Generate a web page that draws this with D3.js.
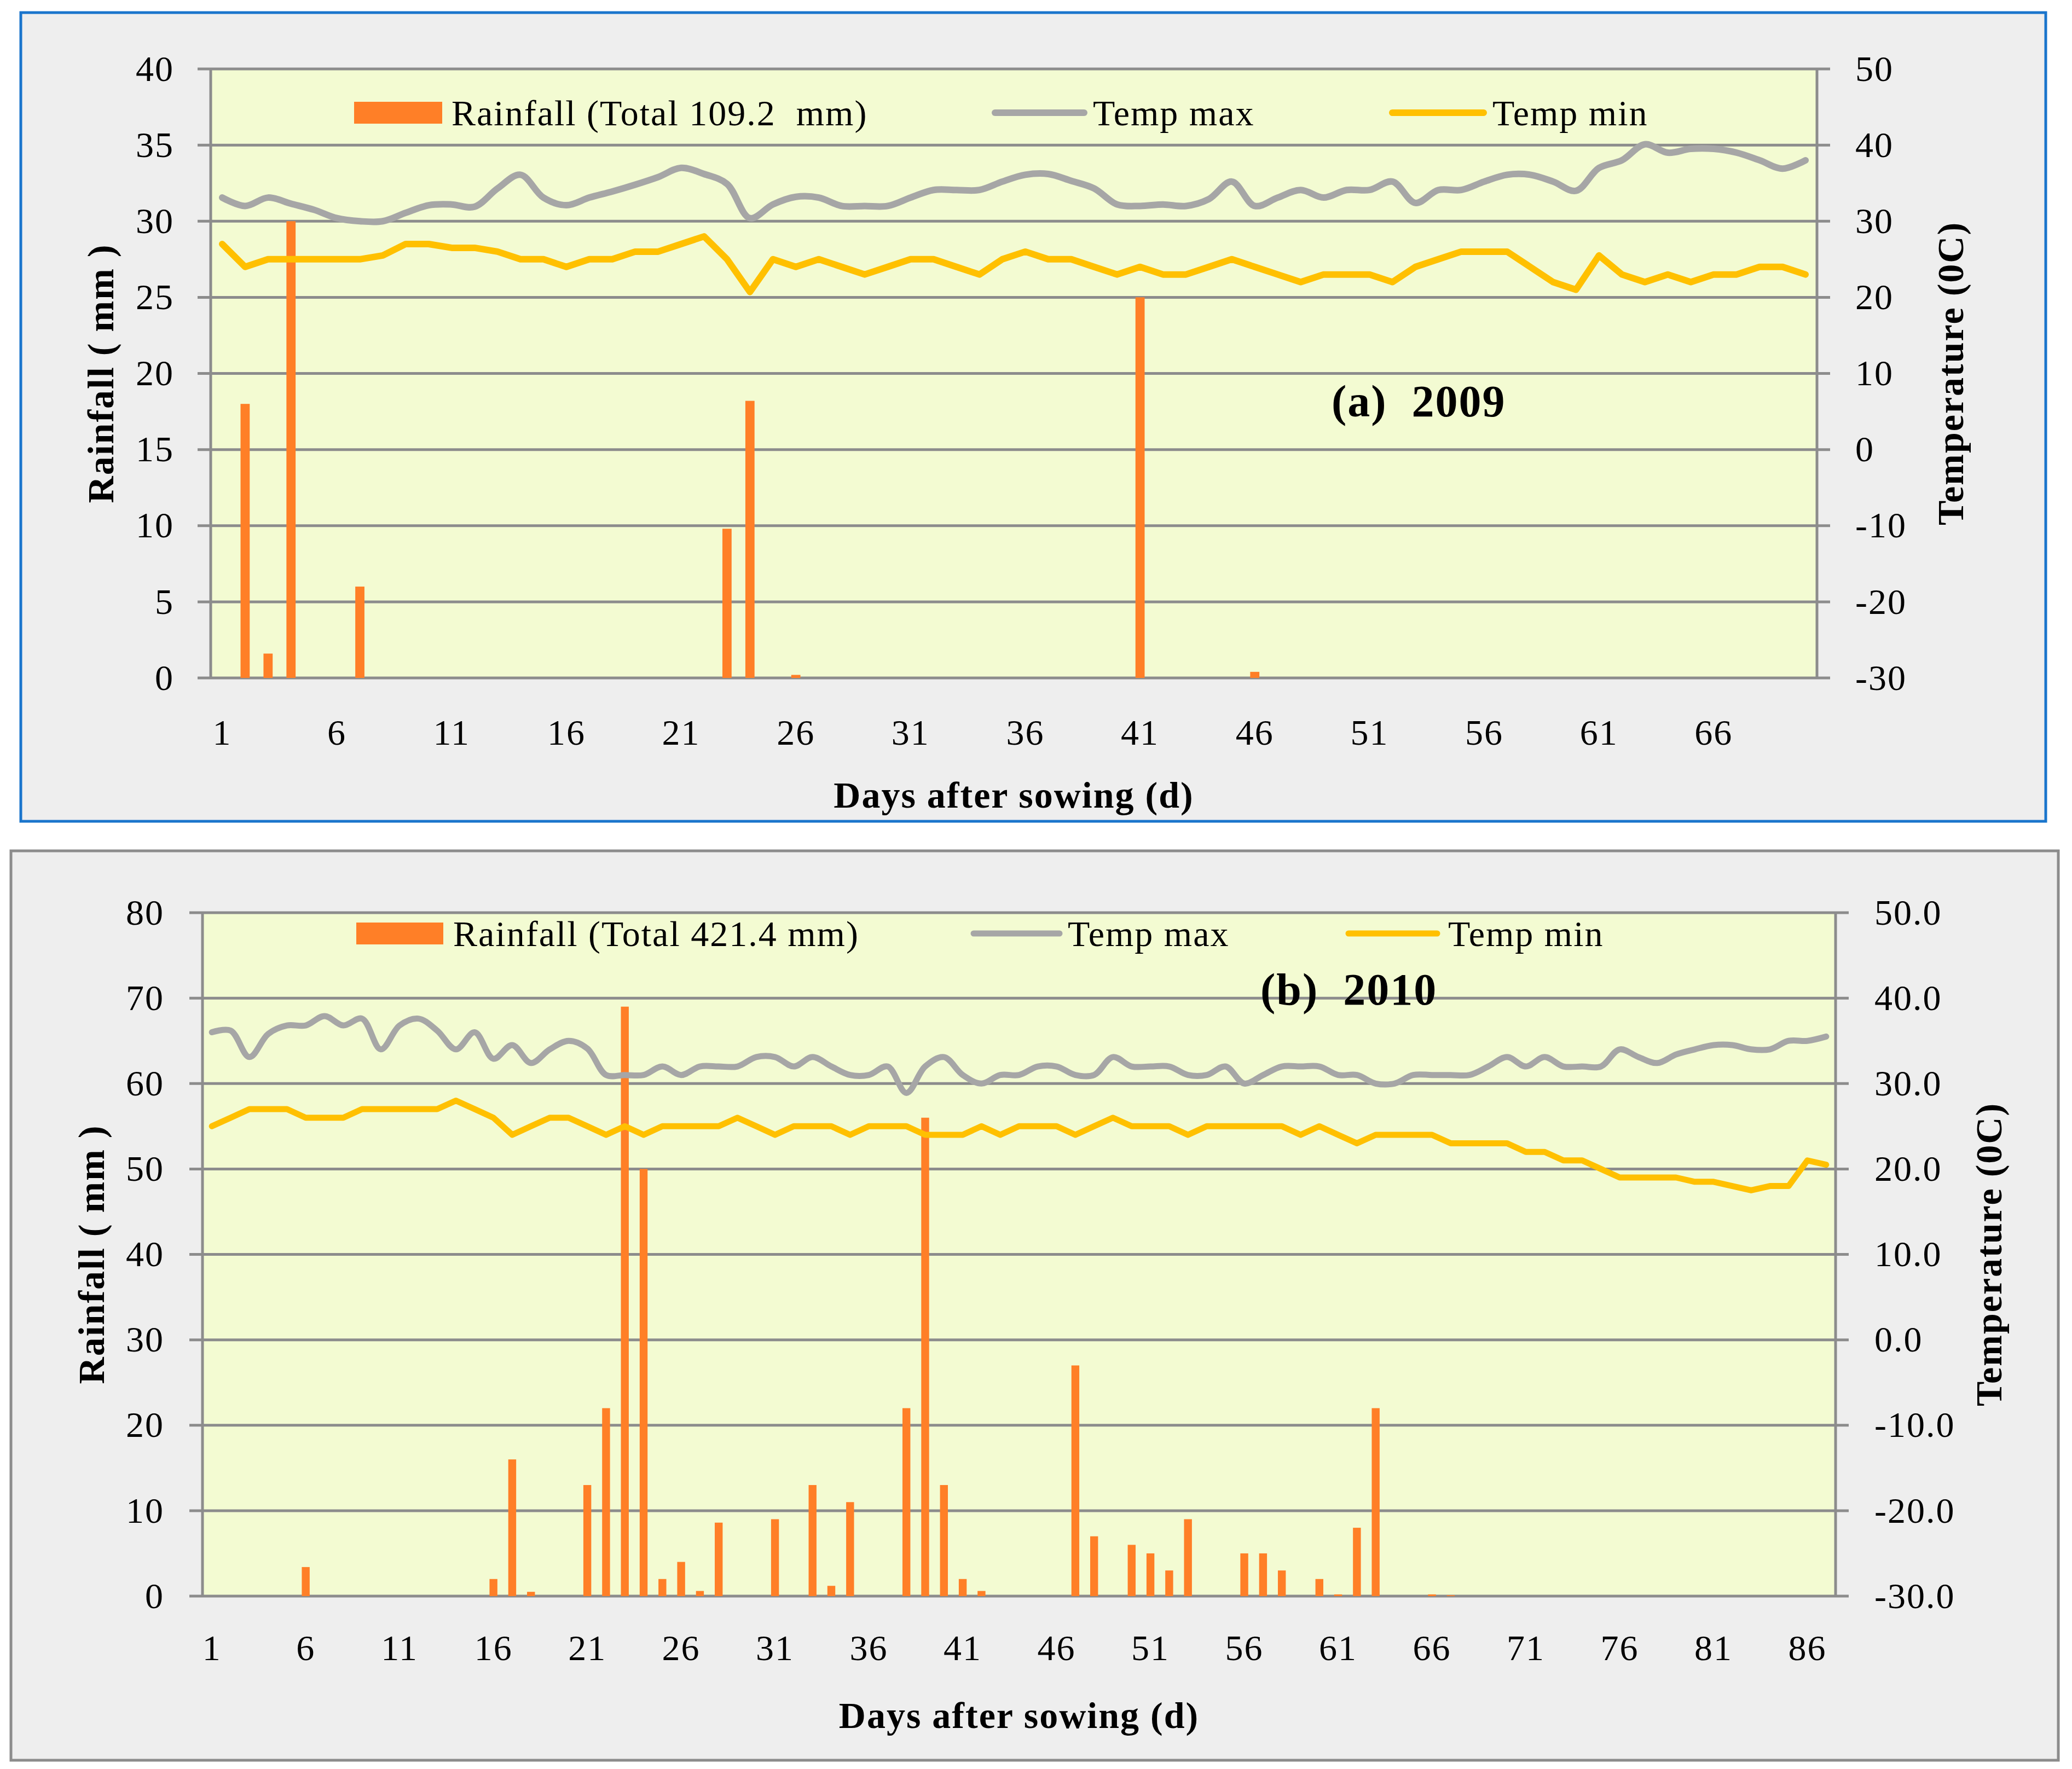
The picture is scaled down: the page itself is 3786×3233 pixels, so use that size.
<!DOCTYPE html>
<html>
<head>
<meta charset="utf-8" />
<title>Rainfall and temperature after sowing</title>
<style>
html, body {
    margin: 0;
    padding: 0;
    background: #fff;
}
svg text {
    font-family: "Liberation Serif", "Times New Roman", serif;
    fill: #000;
    white-space: pre;
    letter-spacing: 2px;
}
</style>
</head>
<body>
<svg id="chart" width="3786" height="3233"></svg>
<script src="https://cdnjs.cloudflare.com/ajax/libs/d3/7.8.5/d3.min.js"></script>
<script>
// ---- 2009 (70 days) ----
var days2009 = d3.range(1, 71)
var rain2009 = [
    0, 18, 1.6, 30, 0, 0, 6, 0, 0, 0,
    0, 0, 0, 0, 0, 0, 0, 0, 0, 0,
    0, 0, 9.8, 18.2, 0, 0.2, 0, 0, 0, 0,
    0, 0, 0, 0, 0, 0, 0, 0, 0, 0,
    25, 0, 0, 0, 0, 0.4, 0, 0, 0, 0,
    0, 0, 0, 0, 0, 0, 0, 0, 0, 0,
    0, 0, 0, 0, 0, 0, 0, 0, 0, 0
]
var tmax2009 = [
    33.1, 32.0, 33.1, 32.3, 31.5, 30.4, 30.0, 30.0, 31.1, 32.1,
    32.2, 31.9, 34.3, 36.1, 33.1, 32.1, 33.1, 33.9, 34.8, 35.8,
    37.0, 36.2, 34.9, 30.4, 32.2, 33.2, 33.1, 32.0, 32.0, 32.0,
    33.1, 34.1, 34.1, 34.1, 35.2, 36.1, 36.2, 35.3, 34.3, 32.2,
    32.0, 32.2, 32.0, 32.9, 35.2, 32.0, 33.1, 34.1, 33.1, 34.1,
    34.1, 35.2, 32.4, 34.1, 34.1, 35.2, 36.1, 36.1, 35.2, 34.0,
    37.0, 38.0, 40.1, 39.0, 39.5, 39.5, 39.0, 38.0, 36.9, 38.0
]
var tmin2009 = [
    27, 24, 25, 25, 25, 25, 25, 25.5, 27, 27,
    26.5, 26.5, 26, 25, 25, 24, 25, 25, 26, 26,
    27, 28, 25, 20.7, 25, 24, 25, 24, 23, 24,
    25, 25, 24, 23, 25, 26, 25, 25, 24, 23,
    24, 23, 23, 24, 25, 24, 23, 22, 23, 23,
    23, 22, 24, 25, 26, 26, 26, 24, 22, 21,
    25.5, 23, 22, 23, 22, 23, 23, 24, 24, 23
]

// ---- 2010 (87 days) ----
var days2010 = d3.range(1, 88)
var rain2010 = [
    0, 0, 0, 0, 0, 3.4, 0, 0, 0, 0,
    0, 0, 0, 0, 0, 2, 16, 0.5, 0, 0,
    13, 22, 69, 50, 2, 4, 0.6, 8.6, 0, 0,
    9, 0, 13, 1.2, 11, 0, 0, 22, 56, 13,
    2, 0.6, 0, 0, 0, 0, 27, 7, 0, 6,
    5, 3, 9, 0, 0, 5, 5, 3, 0, 2,
    0.2, 8, 22, 0, 0, 0.2, 0.1, 0, 0, 0,
    0, 0, 0, 0, 0, 0, 0, 0, 0, 0,
    0, 0, 0, 0, 0, 0, 0
]
var tmax2010 = [
    36.0, 36.2, 33.1, 35.8, 36.8, 36.8, 37.9, 36.8, 37.6, 34.0,
    36.8, 37.6, 36.2, 34.0, 36.0, 32.9, 34.5, 32.4, 34.0, 35.0,
    34.1, 31.0, 31.0, 31.0, 32.0, 31.0, 32.0, 32.0, 32.0, 33.1,
    33.1, 32.0, 33.1, 32.0, 31.0, 31.0, 32.0, 28.9, 32.0, 33.1,
    31.0, 30.0, 31.0, 31.0, 32.0, 32.0, 31.0, 31.0, 33.1, 32.0,
    32.0, 32.0, 31.0, 31.0, 32.0, 30.0, 31.0, 32.0, 32.0, 32.0,
    31.0, 31.0, 30.0, 30.0, 31.0, 31.0, 31.0, 31.0, 32.0, 33.1,
    32.0, 33.1, 32.0, 32.0, 32.0, 34.0, 33.1, 32.4, 33.4, 34.0,
    34.5, 34.5, 34.0, 34.0, 35.0, 35.0, 35.5
]
var tmin2010 = [
    25, 26, 27, 27, 27, 26, 26, 26, 27, 27,
    27, 27, 27, 28, 27, 26, 24, 25, 26, 26,
    25, 24, 25, 24, 25, 25, 25, 25, 26, 25,
    24, 25, 25, 25, 24, 25, 25, 25, 24, 24,
    24, 25, 24, 25, 25, 25, 24, 25, 26, 25,
    25, 25, 24, 25, 25, 25, 25, 25, 24, 25,
    24, 23, 24, 24, 24, 24, 23, 23, 23, 23,
    22, 22, 21, 21, 20, 19, 19, 19, 19, 18.5,
    18.5, 18, 17.5, 18, 18, 21, 20.5
]

// tick labels
var xTicks2009 = [1, 6, 11, 16, 21, 26, 31, 36, 41, 46, 51, 56, 61, 66]
var xTicks2010 = [1, 6, 11, 16, 21, 26, 31, 36, 41, 46, 51, 56, 61, 66, 71, 76, 81, 86]
var rainTicks2009 = [0, 5, 10, 15, 20, 25, 30, 35, 40]
var rainTicks2010 = [0, 10, 20, 30, 40, 50, 60, 70, 80]
var tempTicks = [-30, -20, -10, 0, 10, 20, 30, 40, 50]

var legendRain2009 = "Rainfall (Total 109.2  mm)"
var legendRain2010 = "Rainfall (Total 421.4 mm)"

// plain hyphen for negatives, like the original
var loc = d3.formatLocale({decimal: ".", thousands: ",", grouping: [3], currency: ["", ""], minus: "-"})

var svg = d3.select("#chart")

var GRID = "#8c8c8c"
var ORANGE = "#ff7f27"
var GREY = "#a6a6a6"
var YELLOW = "#ffc000"

// panel frames
svg.append("rect")
    .attr("x", 38).attr("y", 23).attr("width", 3700).attr("height", 1478)
    .attr("fill", "#eeeeee").attr("stroke", "#1a75cc").attr("stroke-width", 5)
svg.append("rect")
    .attr("x", 20).attr("y", 1555).attr("width", 3741).attr("height", 1662)
    .attr("fill", "#eeeeee").attr("stroke", GRID).attr("stroke-width", 5)

drawPanel({
    days: days2009, rain: rain2009, tmax: tmax2009, tmin: tmin2009,
    xTicks: xTicks2009, rainTicks: rainTicks2009, tempTicks: tempTicks,
    tempFmt: loc.format("d"),
    left: 385, right: 3320, top: 126, bottom: 1239, barPad: 0.6,
    lineW: 12,
    leftPad: 67, rightPad: 70, xLabelY: 1338, xTitleY: 1453,
    yTitleX: 184, rTitleX: 3564,
    legendY: 206, swatch: [647, 808], legendText: legendRain2009, legendTextX: 825,
    maxLine: [1818, 1981], maxTextX: 1997, minLine: [2544, 2711], minTextX: 2727,
    note: "(a)  2009", noteX: 2433, noteY: 733
})

drawPanel({
    days: days2010, rain: rain2010, tmax: tmax2010, tmin: tmin2010,
    xTicks: xTicks2010, rainTicks: rainTicks2010, tempTicks: tempTicks,
    tempFmt: loc.format(".1f"),
    left: 370, right: 3354, top: 1668, bottom: 2917, barPad: 0.58,
    lineW: 11,
    leftPad: 70, rightPad: 71, xLabelY: 3011, xTitleY: 3135,
    yTitleX: 167, rTitleX: 3634,
    legendY: 1706, swatch: [651, 810], legendText: legendRain2010, legendTextX: 828,
    maxLine: [1779, 1936], maxTextX: 1951, minLine: [2464, 2626], minTextX: 2646,
    note: "(b)  2010", noteX: 2303, noteY: 1808
})

function drawPanel(c) {
    var g = svg.append("g")
    var w = c.right - c.left
    var midY = (c.top + c.bottom) / 2

    var x = d3.scaleBand().domain(c.days)
        .range([c.left, c.right])
        .paddingInner(c.barPad).paddingOuter(c.barPad / 2)
    var xc = function(d) { return x(d) + x.bandwidth() / 2 }
    var yRain = d3.scaleLinear()
        .domain(d3.extent(c.rainTicks)).range([c.bottom, c.top])
    var yTemp = d3.scaleLinear()
        .domain(d3.extent(c.tempTicks)).range([c.bottom, c.top])

    // plot area
    g.append("rect")
        .attr("x", c.left).attr("y", c.top)
        .attr("width", w).attr("height", c.bottom - c.top)
        .attr("fill", "#f3fbd2")

    // gridlines (with outside ticks on both sides)
    g.append("g").selectAll("line")
        .data(c.rainTicks)
        .enter().append("line")
        .attr("x1", c.left - 24).attr("x2", c.right + 24)
        .attr("y1", function(d) { return yRain(d) })
        .attr("y2", function(d) { return yRain(d) })
        .attr("stroke", GRID).attr("stroke-width", 5)

    // rainfall bars
    g.append("g").selectAll("rect")
        .data(c.days.filter(function(d, i) { return c.rain[i] > 0 }))
        .enter().append("rect")
        .attr("x", function(d) { return x(d) })
        .attr("width", x.bandwidth())
        .attr("y", function(d) { return yRain(c.rain[d - 1]) })
        .attr("height", function(d) { return c.bottom - yRain(c.rain[d - 1]) })
        .attr("fill", ORANGE)

    // vertical axis lines
    g.append("line")
        .attr("x1", c.left).attr("x2", c.left)
        .attr("y1", c.top - 2).attr("y2", c.bottom + 2)
        .attr("stroke", GRID).attr("stroke-width", 5)
    g.append("line")
        .attr("x1", c.right).attr("x2", c.right)
        .attr("y1", c.top - 2).attr("y2", c.bottom + 2)
        .attr("stroke", GRID).attr("stroke-width", 5)

    // temperature lines
    var maxLine = d3.line()
        .x(function(d, i) { return xc(c.days[i]) })
        .y(function(d) { return yTemp(d) })
        .curve(d3.curveCatmullRom.alpha(0.5))
    var minLine = d3.line()
        .x(function(d, i) { return xc(c.days[i]) })
        .y(function(d) { return yTemp(d) })

    g.append("path").datum(c.tmax)
        .attr("d", maxLine)
        .attr("fill", "none").attr("stroke", GREY)
        .attr("stroke-width", c.lineW).attr("stroke-linejoin", "round").attr("stroke-linecap", "round")
    g.append("path").datum(c.tmin)
        .attr("d", minLine)
        .attr("fill", "none").attr("stroke", YELLOW)
        .attr("stroke-width", c.lineW).attr("stroke-linejoin", "round").attr("stroke-linecap", "round")

    // axes (labels only)
    var axL = g.append("g")
        .attr("transform", "translate(" + c.left + ",0)")
        .call(d3.axisLeft(yRain).tickValues(c.rainTicks).tickSize(0).tickPadding(c.leftPad))
    var axR = g.append("g")
        .attr("transform", "translate(" + c.right + ",0)")
        .call(d3.axisRight(yTemp).tickValues(c.tempTicks).tickFormat(c.tempFmt).tickSize(0).tickPadding(c.rightPad))
    var axB = g.append("g")
        .attr("transform", "translate(0," + c.bottom + ")")
        .call(d3.axisBottom(x).tickValues(c.xTicks).tickSize(0).tickPadding(c.xLabelY - c.bottom - 24))
    ;[axL, axR, axB].forEach(function(a) {
        a.select(".domain").remove()
        a.attr("font-family", null).attr("font-size", null)
        a.selectAll("text").style("font-size", "66px").attr("fill", "#000")
    })

    // axis titles
    g.append("text")
        .attr("x", c.left + w / 2).attr("y", c.xTitleY)
        .attr("text-anchor", "middle").attr("dominant-baseline", "central")
        .style("font-size", "68px").style("font-weight", "bold")
        .text("Days after sowing (d)")
    g.append("text")
        .attr("transform", "translate(" + c.yTitleX + "," + midY + ") rotate(-90)")
        .attr("text-anchor", "middle").attr("dominant-baseline", "central")
        .style("font-size", "68px").style("font-weight", "bold")
        .text("Rainfall ( mm )")
    g.append("text")
        .attr("transform", "translate(" + c.rTitleX + "," + midY + ") rotate(-90)")
        .attr("text-anchor", "middle").attr("dominant-baseline", "central")
        .style("font-size", "68px").style("font-weight", "bold")
        .text("Temperature (0C)")

    // legend
    var lg = g.append("g")
    lg.append("rect")
        .attr("x", c.swatch[0]).attr("y", c.legendY - 20)
        .attr("width", c.swatch[1] - c.swatch[0]).attr("height", 40)
        .attr("fill", ORANGE)
    lg.append("line")
        .attr("x1", c.maxLine[0]).attr("x2", c.maxLine[1])
        .attr("y1", c.legendY).attr("y2", c.legendY)
        .attr("stroke", GREY).attr("stroke-width", c.lineW).attr("stroke-linecap", "round")
    lg.append("line")
        .attr("x1", c.minLine[0]).attr("x2", c.minLine[1])
        .attr("y1", c.legendY).attr("y2", c.legendY)
        .attr("stroke", YELLOW).attr("stroke-width", c.lineW).attr("stroke-linecap", "round")
    var items = [[c.legendTextX, c.legendText], [c.maxTextX, "Temp max"], [c.minTextX, "Temp min"]]
    lg.selectAll("text.leg")
        .data(items)
        .enter().append("text")
        .attr("class", "leg")
        .attr("x", function(d) { return d[0] })
        .attr("y", c.legendY)
        .attr("dominant-baseline", "central")
        .style("font-size", "66px")
        .text(function(d) { return d[1] })

    // year note
    g.append("text")
        .attr("x", c.noteX).attr("y", c.noteY)
        .attr("dominant-baseline", "central")
        .style("font-size", "82px").style("font-weight", "bold")
        .text(c.note)
}
</script>
</body>
</html>
